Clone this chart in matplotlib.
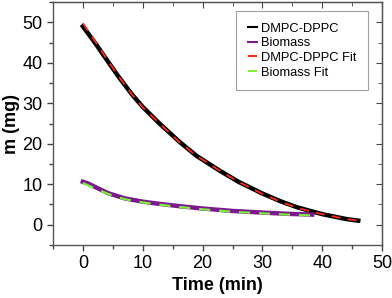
import matplotlib.pyplot as plt
import numpy as np

plt.rcParams['font.family'] = ['Liberation Sans', 'DejaVu Sans']

# datos
t_dmpc = [0, 2, 4.2, 6, 8.2, 10, 12.8, 16.2, 19, 22.8, 26, 30, 33, 35.8, 38, 40, 42, 44, 46]
m_dmpc = [49.0, 45.0, 40.3, 36.5, 32.2, 29.1, 25.0, 20.4, 17.0, 13.4, 10.6, 7.7, 5.8, 4.3, 3.4, 2.6, 2.0, 1.4, 1.0]
t_dmpc_fit = [0, 2, 4.2, 6, 8.2, 10, 12.8, 16.2, 19, 22.8, 26, 30, 33, 35.8, 38, 40, 42, 44, 46]
m_dmpc_fit = [49.8, 45.4, 40.5, 36.6, 32.2, 29.0, 25.0, 20.3, 17.0, 13.4, 10.6, 7.6, 5.7, 4.2, 3.3, 2.6, 2.0, 1.4, 1.0]

t_bio = [0, 1, 2.5, 4.2, 7, 10, 12.5, 16, 20, 25, 30, 34, 38.3]
m_bio = [10.6, 10.1, 9.0, 7.8, 6.5, 5.7, 5.2, 4.6, 4.0, 3.4, 3.0, 2.7, 2.5]
t_bio_fit = [0, 2, 4.2, 7, 10, 12.5, 16, 20, 25, 30, 34, 38.3]
m_bio_fit = [10.3, 9.0, 7.6, 6.3, 5.5, 5.0, 4.4, 3.8, 3.2, 2.8, 2.5, 2.3]

fig = plt.figure(figsize=(3.92, 2.98), dpi=100)
ax = fig.add_axes([0.135, 0.178, 0.84, 0.815])

ax.plot(t_dmpc, m_dmpc, color='black', lw=3.2, label='DMPC-DPPC')
ax.plot(t_bio, m_bio, color='#7b1a8c', lw=3.2, label='Biomass')
ax.plot(t_dmpc_fit, m_dmpc_fit, color='#ff2a1a', lw=1.3, ls=(0, (5, 4)), label='DMPC-DPPC Fit')
ax.plot(t_bio_fit, m_bio_fit, color='#7cf03a', lw=1.6, ls=(0, (5, 4)), label='Biomass Fit')

ax.set_xlim(-5, 50)
ax.set_ylim(-5, 55)
ax.set_xticks([0, 10, 20, 30, 40, 50])
ax.set_yticks([0, 10, 20, 30, 40, 50])
ax.set_xticks(np.arange(-5, 51, 5), minor=True)
ax.set_yticks(np.arange(-5, 56, 5), minor=True)
ax.tick_params(which='both', direction='out', labelsize=13, color='#444444', width=1)
ax.tick_params(which='major', length=4)
ax.tick_params(which='minor', length=3)
for s in ax.spines.values():
    s.set_color('#555555')
    s.set_linewidth(1)

# marcas del lado derecho y superior hacia adentro
top = ax.secondary_xaxis('top')
top.set_xticks([0, 10, 20, 30, 40, 50])
top.set_xticks(np.arange(-5, 51, 5), minor=True)
top.tick_params(which='both', direction='in', labeltop=False, color='#444444')
top.tick_params(which='major', length=4)
top.tick_params(which='minor', length=3)
right = ax.secondary_yaxis('right')
right.set_yticks([0, 10, 20, 30, 40, 50])
right.set_yticks(np.arange(-5, 56, 5), minor=True)
right.tick_params(which='both', direction='in', labelright=False, color='#444444')
right.tick_params(which='major', length=4)
right.tick_params(which='minor', length=3)

ax.set_xlabel('Time (min)', fontsize=13, fontweight='bold', labelpad=3)
ax.set_ylabel('m (mg)', fontsize=13, fontweight='bold', labelpad=2)

leg = ax.legend(loc='upper right', bbox_to_anchor=(0.975, 0.99), fontsize=9.3,
                handlelength=0.7, handletextpad=0.3, fancybox=False,
                edgecolor='#888888', borderpad=0.9, labelspacing=0.2)
leg.get_frame().set_linewidth(0.8)
for h in leg.get_lines():
    h.set_linewidth(1.5)

plt.savefig('out.png', dpi=100)
